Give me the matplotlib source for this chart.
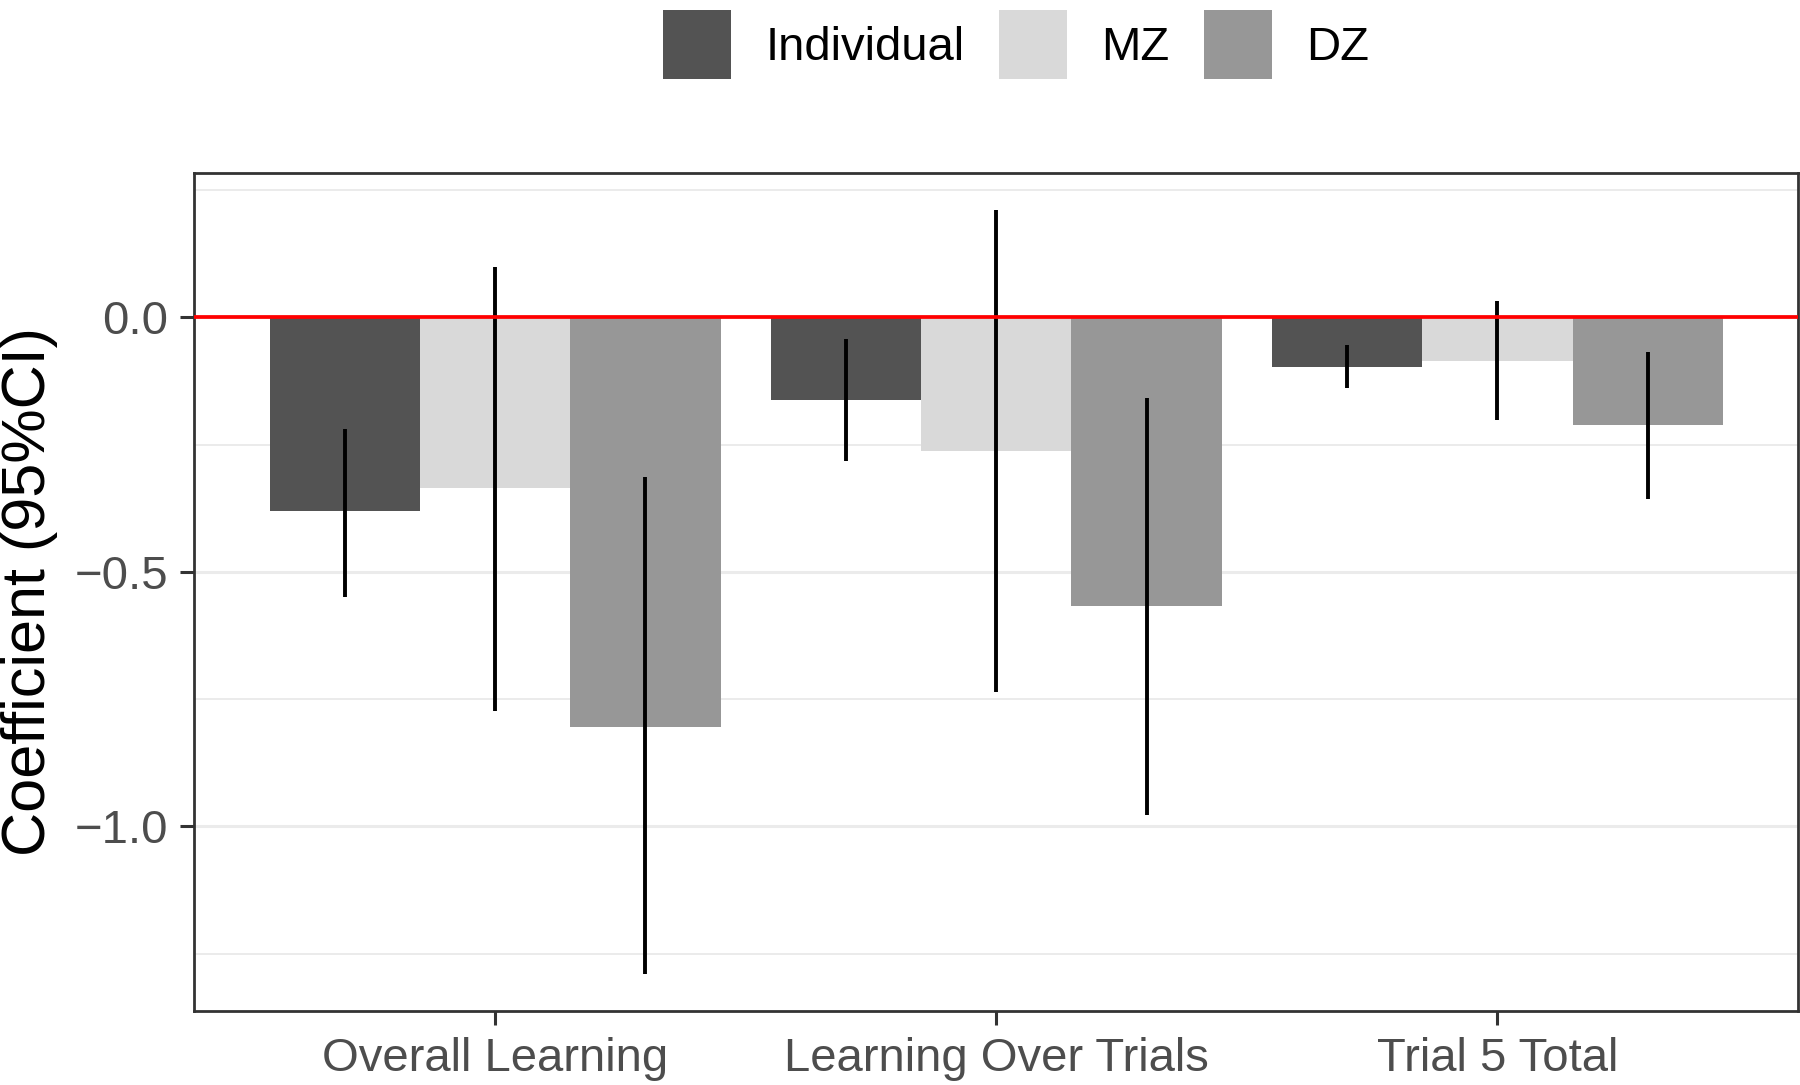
import numpy as np
import matplotlib.pyplot as plt
from matplotlib.patches import Patch

plt.rcParams['font.family'] = ['Liberation Sans', 'DejaVu Sans']

# valeurs
outcomes = ["Overall Learning", "Learning Over Trials", "Trial 5 Total"]
groups = ["Individual", "MZ", "DZ"]
colors = ["#535353", "#D9D9D9", "#979797"]

coef_individual = [-0.381, -0.163, -0.097]
coef_mz = [-0.336, -0.262, -0.086]
coef_dz = [-0.804, -0.567, -0.212]

low_individual = [-0.549, -0.282, -0.138]
high_individual = [-0.219, -0.043, -0.054]
low_mz = [-0.774, -0.736, -0.201]
high_mz = [0.099, 0.212, 0.032]
low_dz = [-1.291, -0.977, -0.357]
high_dz = [-0.314, -0.158, -0.068]

coefs = [coef_individual, coef_mz, coef_dz]
lows = [low_individual, low_mz, low_dz]
highs = [high_individual, high_mz, high_dz]

fig = plt.figure(figsize=(18, 10.85), dpi=100)
ax = fig.add_axes([0.108, 0.0682, 0.891, 0.7724])

x = np.arange(1, len(outcomes) + 1)
width = 0.3
for i, g in enumerate(groups):
    pos = x + (i - 1) * width
    ax.bar(pos, coefs[i], width=width, color=colors[i], edgecolor="none", zorder=2, label=g)
    ax.vlines(pos, lows[i], highs[i], color="black", lw=2.8, zorder=3)

# ligne de référence à zéro
ax.axhline(0, color="#FF0000", lw=2.7, zorder=4)

ax.set_xlim(0.4, 3.6)
ax.set_ylim(-1.363, 0.284)
ax.set_xticks(x)
ax.set_xticklabels(outcomes)
ax.set_yticks([0.0, -0.5, -1.0])
ax.set_yticklabels(["0.0", "\u22120.5", "\u22121.0"])
ax.set_yticks([0.25, -0.25, -0.75, -1.25], minor=True)
ax.tick_params(axis="y", which="minor", length=0)
ax.tick_params(axis="both", which="major", length=10, width=2.2, color="#333333",
               labelsize=34, labelcolor="#4D4D4D", pad=9)
ax.grid(axis="y", which="major", color="#EBEBEB", lw=2.2, zorder=0)
ax.grid(axis="y", which="minor", color="#EBEBEB", lw=1.4, zorder=0)
ax.set_axisbelow(True)
for s in ax.spines.values():
    s.set_color("#333333")
    s.set_linewidth(2)

ax.set_ylabel("Coefficient (95%CI)", fontsize=44, color="black", labelpad=12)

handles = [Patch(facecolor=c, edgecolor="none") for c in colors]
fig.legend(handles, groups, loc="upper center", bbox_to_anchor=(0.5645, 1.008), ncol=3,
           frameon=False, fontsize=34, handlelength=1.44, handleheight=1.85,
           handletextpad=0.73, columnspacing=0.73, borderaxespad=0.0)

plt.savefig("out.png", dpi=100)
